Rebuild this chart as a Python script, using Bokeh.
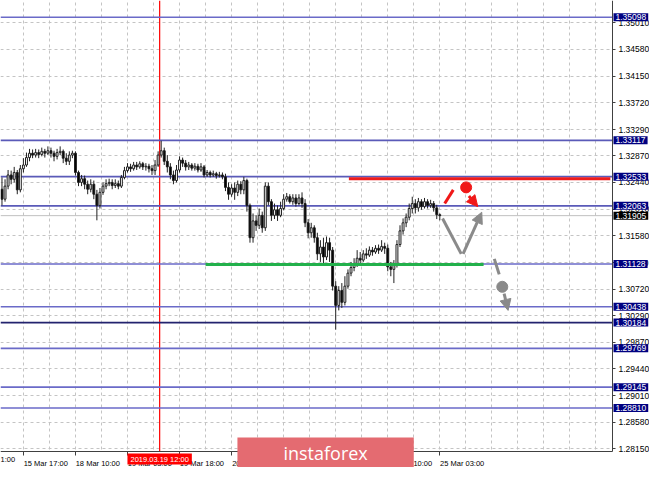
from bokeh.plotting import figure
from bokeh.models import (Range1d, FixedTicker, NumeralTickFormatter, Label, Arrow,
                          NormalHead, ColumnDataSource)
from bokeh.embed import file_html
from bokeh.resources import INLINE

# ---------------- data (GBPUSD H1) ----------------
first_open = 1.3233
close = [
    1.3217, 1.3238, 1.3256, 1.3249, 1.3260, 1.3232, 1.3266, 1.3272, 1.3284, 1.3291,
    1.3288, 1.3292, 1.3289, 1.3294, 1.3291, 1.3295, 1.3291, 1.3286, 1.3292, 1.3294,
    1.3283, 1.3278, 1.3288, 1.3291, 1.3260, 1.3244, 1.3250, 1.3241, 1.3233, 1.3241,
    1.3225, 1.3207, 1.3228, 1.3238, 1.3242, 1.3244, 1.3239, 1.3242, 1.3238, 1.3252,
    1.3263, 1.3269, 1.3266, 1.3272, 1.3269, 1.3274, 1.3269, 1.3270, 1.3266, 1.3263,
    1.3272, 1.3288, 1.3295, 1.3278, 1.3269, 1.3256, 1.3247, 1.3264, 1.3280, 1.3275,
    1.3269, 1.3272, 1.3267, 1.3270, 1.3264, 1.3269, 1.3256, 1.3260, 1.3256, 1.3258,
    1.3255, 1.3256, 1.3253, 1.3236, 1.3225, 1.3235, 1.3228, 1.3241, 1.3232, 1.3247,
    1.3207, 1.3155, 1.3182, 1.3175, 1.3191, 1.3171, 1.3238, 1.3213, 1.3191, 1.3200,
    1.3191, 1.3202, 1.3217, 1.3221, 1.3213, 1.3219, 1.3210, 1.3219, 1.3210, 1.3179,
    1.3163, 1.3171, 1.3155, 1.3129, 1.3140, 1.3124, 1.3147, 1.3135, 1.3077, 1.3046,
    1.3070, 1.3051, 1.3077, 1.3098, 1.3107, 1.3113, 1.3122, 1.3119, 1.3129, 1.3127,
    1.3135, 1.3132, 1.3138, 1.3135, 1.3141, 1.3138, 1.3108, 1.3104, 1.3113, 1.3144,
    1.3166, 1.3179, 1.3188, 1.3202, 1.3210, 1.3203, 1.3213, 1.3205, 1.3213, 1.3207,
    1.3210, 1.3203, 1.3192, 1.31905,
]
high = [
    1.3252, 1.3249, 1.3264, 1.3263, 1.3269, 1.3264, 1.3272, 1.3283, 1.3292, 1.3298,
    1.3297, 1.3298, 1.3297, 1.3300, 1.3298, 1.3302, 1.3300, 1.3295, 1.3298, 1.3302,
    1.3297, 1.3291, 1.3294, 1.3295, 1.3294, 1.3263, 1.3256, 1.3255, 1.3247, 1.3249,
    1.3247, 1.3232, 1.3235, 1.3244, 1.3249, 1.3250, 1.3249, 1.3249, 1.3247, 1.3256,
    1.3269, 1.3275, 1.3274, 1.3277, 1.3277, 1.3278, 1.3277, 1.3275, 1.3274, 1.3272,
    1.3280, 1.3294, 1.3311, 1.3300, 1.3288, 1.3275, 1.3263, 1.3272, 1.3286, 1.3284,
    1.3280, 1.3277, 1.3275, 1.3275, 1.3274, 1.3275, 1.3272, 1.3264, 1.3263, 1.3263,
    1.3261, 1.3261, 1.3260, 1.3258, 1.3244, 1.3241, 1.3244, 1.3247, 1.3246, 1.3253,
    1.3250, 1.3210, 1.3194, 1.3191, 1.3202, 1.3197, 1.3244, 1.3244, 1.3217, 1.3210,
    1.3207, 1.3213, 1.3225, 1.3227, 1.3225, 1.3225, 1.3225, 1.3225, 1.3228, 1.3217,
    1.3185, 1.3179, 1.3175, 1.3163, 1.3151, 1.3155, 1.3157, 1.3155, 1.3140, 1.3085,
    1.3077, 1.3082, 1.3093, 1.3104, 1.3116, 1.3122, 1.3135, 1.3132, 1.3135, 1.3138,
    1.3141, 1.3140, 1.3143, 1.3144, 1.3151, 1.3147, 1.3144, 1.3116, 1.3119, 1.3151,
    1.3175, 1.3186, 1.3194, 1.3210, 1.3221, 1.3217, 1.3219, 1.3217, 1.3219, 1.3217,
    1.3216, 1.3214, 1.3208, 1.3194,
]
low = [
    1.3207, 1.3213, 1.3233, 1.3241, 1.3244, 1.3225, 1.3228, 1.3260, 1.3269, 1.3278,
    1.3283, 1.3284, 1.3283, 1.3286, 1.3284, 1.3288, 1.3284, 1.3278, 1.3281, 1.3288,
    1.3275, 1.3272, 1.3272, 1.3283, 1.3255, 1.3238, 1.3238, 1.3233, 1.3225, 1.3228,
    1.3217, 1.3183, 1.3202, 1.3224, 1.3233, 1.3238, 1.3233, 1.3235, 1.3233, 1.3235,
    1.3249, 1.3260, 1.3261, 1.3263, 1.3264, 1.3266, 1.3264, 1.3263, 1.3260, 1.3256,
    1.3256, 1.3269, 1.3284, 1.3272, 1.3260, 1.3249, 1.3241, 1.3244, 1.3260, 1.3269,
    1.3263, 1.3264, 1.3263, 1.3263, 1.3260, 1.3261, 1.3252, 1.3253, 1.3252, 1.3253,
    1.3250, 1.3252, 1.3249, 1.3230, 1.3216, 1.3221, 1.3216, 1.3222, 1.3225, 1.3225,
    1.3197, 1.3147, 1.3147, 1.3166, 1.3169, 1.3163, 1.3166, 1.3207, 1.3182, 1.3185,
    1.3182, 1.3188, 1.3199, 1.3213, 1.3210, 1.3208, 1.3205, 1.3207, 1.3203, 1.3172,
    1.3154, 1.3155, 1.3147, 1.3119, 1.3116, 1.3112, 1.3119, 1.3116, 1.3070, 1.3007,
    1.3038, 1.3042, 1.3046, 1.3073, 1.3093, 1.3101, 1.3108, 1.3113, 1.3116, 1.3121,
    1.3124, 1.3126, 1.3129, 1.3129, 1.3132, 1.3129, 1.3101, 1.3093, 1.3082, 1.3107,
    1.3140, 1.3160, 1.3172, 1.3183, 1.3194, 1.3194, 1.3197, 1.3200, 1.3202, 1.3202,
    1.3203, 1.3197, 1.3185, 1.3183,
]

levels = [1.35098, 1.33117, 1.32533, 1.32063, 1.31128, 1.30438, 1.30184,
          1.29769, 1.29145, 1.28810]
level_line_colors = ["#6a6ac8", "#5a5ab8", "#5a5ab8", "#5a5ab8", "#6a6ac8", "#6a6ac8",
                     "#23236e", "#6a6ac8", "#6a6ac8", "#6a6ac8"]
bid = 1.31905

price_ticks = [1.28150, 1.28580, 1.29010, 1.29440, 1.29870, 1.30290, 1.30720,
               1.31150, 1.31580, 1.32010, 1.32440, 1.32870, 1.33290, 1.33720,
               1.34150, 1.34580, 1.35010]

time_ticks = [7, 24, 41, 58, 75, 92, 109, 126, 143]
time_labels = ["15 Mar 17:00", "18 Mar 10:00", "19 Mar 03:00", "19 Mar 18:00",
               "20 Mar 11:00", "21 Mar 04:00", "21 Mar 21:00", "22 Mar 10:00",
               "25 Mar 03:00"]
edge_label = "1:00"          # tail of the label cut by the left edge

cursor_bar = 51.5
cursor_text = "2019.03.19 12:00"

# drawn objects (bar index, price)
resistance = dict(x0=113.3, x1=198.7, y=1.3250)
support = dict(x0=66.5, x1=157.3, y=1.3112)

red_dash = dict(x0=144.6, y0=1.3210, x1=147.4, y1=1.3232)
red_dot = dict(x=151.6, y=1.3236)
red_arrow = dict(x0=152.5, y0=1.3222, x1=155.4, y1=1.3205)

gray_leg = dict(x0=143.9, y0=1.3186, x1=150.0, y1=1.3129)
gray_arrow1 = dict(x0=150.6, y0=1.3129, x1=156.7, y1=1.3196)
gray_dash = dict(x0=160.8, y0=1.3121, x1=162.4, y1=1.3096)
gray_dot = dict(x=163.4, y=1.3076)
gray_arrow2 = dict(x0=164.0, y0=1.3065, x1=165.3, y1=1.3038)

banner_bar = 105.7
banner_text = "instaforex"

# ---------------- geometry ----------------
W, H = 649, 467             # canvas
CW, CH = 612, 451           # chart area (price scale right of it, time scale below)
X0, XB = -0.48, 199.4       # visible bars in the chart area
YB, Y1 = 1.28109, 1.35368   # visible prices in the chart area
XE = X0 + (XB - X0) * W / CW
YS = Y1 - (Y1 - YB) * H / CH

p = figure(width=W, height=H, x_range=Range1d(X0, XE), y_range=Range1d(YS, Y1),
           output_backend="svg", toolbar_location=None,
           x_axis_location="below", y_axis_location="right",
           min_border_left=0, min_border_top=0, min_border_right=0, min_border_bottom=0,
           background_fill_color="white", border_fill_color="white",
           outline_line_color=None)

FONT = "Liberation Sans"

# price axis, on the right edge of the chart area
ya = p.yaxis[0]
ya.fixed_location = XB
ya.bounds = (YB, Y1)
ya.ticker = FixedTicker(ticks=price_ticks)
ya.formatter = NumeralTickFormatter(format="0.00000")
ya.major_label_text_font = FONT
ya.major_label_text_font_size = "8.5px"
ya.major_label_text_color = "#000000"
ya.major_tick_out = 3
ya.major_tick_in = 0
ya.minor_tick_line_color = None
ya.major_label_standoff = 3
ya.axis_line_color = "#404040"
ya.major_tick_line_color = "#404040"

# time axis, on the bottom edge of the chart area (labels start at their tick)
shift = 7.3
lab_pos = [t + shift for t in time_ticks]
xa = p.xaxis[0]
xa.fixed_location = YB
xa.bounds = (X0, XB)
xa.ticker = FixedTicker(ticks=lab_pos, minor_ticks=time_ticks)
xa.major_label_overrides = {pos: lab for pos, lab in zip(lab_pos, time_labels)}
xa.major_tick_line_color = None
xa.major_tick_out = 0
xa.major_tick_in = 0
xa.minor_tick_out = 4
xa.minor_tick_in = 0
xa.minor_tick_line_color = "#404040"
xa.major_label_standoff = 3
xa.major_label_text_font = FONT
xa.major_label_text_font_size = "7.5px"
xa.major_label_text_color = "#000000"
xa.axis_line_color = "#404040"

# grid
p.xgrid.ticker = FixedTicker(ticks=[7 + 8.5 * k for k in range(-1, 24)])
for g in (p.xgrid, p.ygrid):
    g.grid_line_color = "#c4c4c4"
    g.grid_line_dash = "3 3"
    g.grid_line_width = 1

# bid line and cursor line
p.segment(x0=[X0], y0=[bid], x1=[XB], y1=[bid], line_color="#c0c0c0", line_width=1)
p.segment(x0=[cursor_bar], y0=[YB], x1=[cursor_bar], y1=[Y1], line_color="#ff0000",
          line_width=1.2)

# horizontal levels
p.segment(x0=[X0] * len(levels), y0=levels, x1=[XB] * len(levels), y1=levels,
          line_color=level_line_colors, line_width=1.6)

# candles
n = len(close)
opens = [first_open] + close[:-1]
idx = list(range(n))
hi = [max(h, o, c) for h, o, c in zip(high, opens, close)]
lo = [min(l, o, c) for l, o, c in zip(low, opens, close)]
src = ColumnDataSource(dict(
    x=idx, o=opens, c=close, h=hi, l=lo,
    fill=["#ffffff" if c >= o else "#000000" for o, c in zip(opens, close)],
))
p.segment(x0="x", y0="h", x1="x", y1="l", source=src, line_color="#202020", line_width=1)
p.vbar(x="x", width=0.62, top="o", bottom="c", source=src, fill_color="fill",
       line_color="#202020", line_width=1)

# drawn support / resistance
p.segment(x0=[resistance["x0"]], y0=[resistance["y"]], x1=[resistance["x1"]],
          y1=[resistance["y"]], line_color="#ee1c1c", line_width=3)
p.segment(x0=[support["x0"]], y0=[support["y"]], x1=[support["x1"]],
          y1=[support["y"]], line_color="#22b04b", line_width=3)

RED = "#f01818"
GRAY = "#8a8a8a"
p.segment(x0=[red_dash["x0"]], y0=[red_dash["y0"]], x1=[red_dash["x1"]], y1=[red_dash["y1"]],
          line_color=RED, line_width=3)
p.scatter(x=[red_dot["x"]], y=[red_dot["y"]], size=11, fill_color=RED, line_color=RED)
p.add_layout(Arrow(x_start=red_arrow["x0"], y_start=red_arrow["y0"],
                   x_end=red_arrow["x1"], y_end=red_arrow["y1"],
                   line_color=RED, line_width=3,
                   end=NormalHead(size=11, fill_color=RED, line_color=RED)))

p.segment(x0=[gray_leg["x0"]], y0=[gray_leg["y0"]], x1=[gray_leg["x1"]], y1=[gray_leg["y1"]],
          line_color=GRAY, line_width=3)
p.add_layout(Arrow(x_start=gray_arrow1["x0"], y_start=gray_arrow1["y0"],
                   x_end=gray_arrow1["x1"], y_end=gray_arrow1["y1"],
                   line_color=GRAY, line_width=3,
                   end=NormalHead(size=11, fill_color=GRAY, line_color=GRAY)))
p.segment(x0=[gray_dash["x0"]], y0=[gray_dash["y0"]], x1=[gray_dash["x1"]], y1=[gray_dash["y1"]],
          line_color=GRAY, line_width=3)
p.scatter(x=[gray_dot["x"]], y=[gray_dot["y"]], size=11, fill_color=GRAY, line_color=GRAY)
p.add_layout(Arrow(x_start=gray_arrow2["x0"], y_start=gray_arrow2["y0"],
                   x_end=gray_arrow2["x1"], y_end=gray_arrow2["y1"],
                   line_color=GRAY, line_width=3,
                   end=NormalHead(size=11, fill_color=GRAY, line_color=GRAY)))

# white margins for the two scales (hide the grid there)
p.quad(left=[XB, X0], right=[XE, XE], bottom=[YS, YS], top=[Y1, YB],
       fill_color="white", line_color=None)

# level price tags on the price scale
for lv in levels:
    p.add_layout(Label(x=XB, y=lv, x_offset=1, text=f"{lv:.5f}", text_font=FONT,
                       text_font_size="8.5px", text_color="white", text_align="left",
                       text_baseline="middle", background_fill_color="#000080",
                       padding=(2, 1)))
p.add_layout(Label(x=XB, y=bid, x_offset=1, text=f"{bid:.5f}", text_font=FONT,
                   text_font_size="8.5px", text_color="white", text_align="left",
                   text_baseline="middle", background_fill_color="#000000",
                   padding=(2, 1)))

# label tail at the left edge
p.add_layout(Label(x=X0, y=YB, y_offset=-3, text=edge_label, text_font=FONT,
                   text_font_size="7.5px", text_color="black", text_align="left",
                   text_baseline="top"))

# cursor time tag
p.add_layout(Label(x=cursor_bar, y=YB, y_offset=-2, text=cursor_text, text_font=FONT,
                   text_font_size="7.5px", text_color="white", text_align="center",
                   text_baseline="top", background_fill_color="#ff0000", padding=(3, 1)))

# banner
p.add_layout(Label(x=banner_bar, y=YB, y_offset=-1, text=banner_text,
                   text_font="Open Sans", text_font_size="18px",
                   text_color="white", text_align="center", text_baseline="middle",
                   background_fill_color="#e46b71", padding=(46, 3)))

open("out.html", "w").write(file_html(p, INLINE))
